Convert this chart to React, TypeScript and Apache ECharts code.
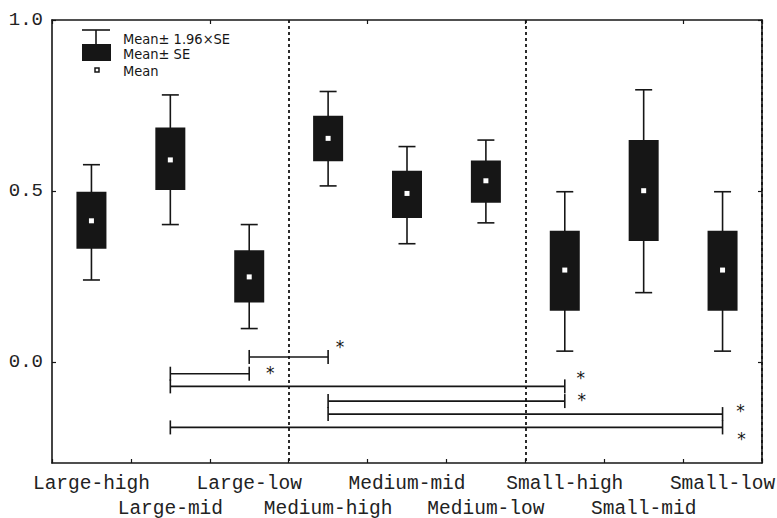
import React, { useEffect, useRef } from "react";
import * as echarts from "echarts";

const categories = [
  "Large-high", "Large-mid", "Large-low",
  "Medium-high", "Medium-mid", "Medium-low",
  "Small-high", "Small-mid", "Small-low",
];
const means = [0.413, 0.591, 0.249, 0.654, 0.493, 0.530, 0.269, 0.501, 0.269];
const seLow = [0.331, 0.503, 0.174, 0.587, 0.421, 0.466, 0.150, 0.354, 0.150];
const seHigh = [0.498, 0.686, 0.327, 0.720, 0.559, 0.589, 0.384, 0.649, 0.384];
const ciLow = [0.240, 0.402, 0.098, 0.515, 0.346, 0.407, 0.032, 0.203, 0.032];
const ciHigh = [0.577, 0.781, 0.402, 0.791, 0.630, 0.649, 0.498, 0.796, 0.498];

const bracketFrom = [2, 1, 1, 3, 3, 1];
const bracketTo = [3, 2, 6, 6, 8, 8];
const bracketY = [0.015, -0.034, -0.071, -0.114, -0.152, -0.191];
const starOffsets = [[12, -14], [21, -5], [16, -12], [17, -5], [18, -7], [19, 8]];

const yTicks = [0, 0.5, 1.0];
const yMin = -0.295;
const yMax = 1.0;

const INK = "#161616";

export default function App() {
  const ref = useRef<HTMLDivElement>(null);
  useEffect(() => {
    if (!ref.current) return;
    const chart = echarts.init(ref.current, null, { renderer: "svg" });
    const boxData = categories.map((_, i) => [i, ciLow[i], seLow[i], means[i], seHigh[i], ciHigh[i]]);
    const bracketData = bracketFrom.map((f, i) => [f, bracketTo[i], bracketY[i]]);
    const lineStyle = { stroke: INK, lineWidth: 1.6 };
    const axisLine = { show: true, onZero: false, lineStyle: { color: INK, width: 1.6 } };
    const option: any = {
      animation: false,
      backgroundColor: "#fff",
      grid: { left: 52, right: 15, top: 20, bottom: 55, containLabel: false, outerBoundsMode: "none" },
      xAxis: [
        {
          type: "category",
          data: categories,
          boundaryGap: true,
          position: "bottom",
          axisLine,
          axisTick: { show: true, inside: true, length: 4, lineStyle: { color: INK, width: 1.2 } },
          axisLabel: {
            interval: 0,
            margin: 8,
            color: "#222",
            fontFamily: "Liberation Mono",
            fontSize: 19.5,
            lineHeight: 25,
            formatter: (v: string, i: number) => (i % 2 === 1 ? "\n" + v : v),
          },
          splitLine: {
            show: true,
            interval: (i: number) => i === 3 || i === 6,
            lineStyle: { color: INK, width: 1.8, type: [3, 3] },
          },
        },
        {
          type: "category",
          data: categories,
          boundaryGap: true,
          position: "top",
          axisLine,
          axisTick: { show: true, inside: true, length: 4, lineStyle: { color: INK, width: 1.2 } },
          axisLabel: { show: false },
          splitLine: { show: false },
        },
      ],
      yAxis: [
        {
          type: "value",
          min: yMin,
          max: yMax,
          position: "left",
          axisLine,
          axisTick: { show: true, inside: true, length: 4, customValues: yTicks, lineStyle: { color: INK, width: 1.2 } },
          axisLabel: {
            customValues: yTicks,
            margin: 9,
            color: "#222",
            fontFamily: "Liberation Mono",
            fontSize: 19,
            formatter: (v: number) => v.toFixed(1),
          },
          splitLine: { show: false },
        },
        {
          type: "value",
          min: yMin,
          max: yMax,
          position: "right",
          axisLine,
          axisTick: { show: true, inside: true, length: 4, customValues: yTicks, lineStyle: { color: INK, width: 1.2 } },
          axisLabel: { show: false },
          splitLine: { show: false },
        },
      ],
      series: [
        {
          type: "custom",
          xAxisIndex: 0,
          yAxisIndex: 0,
          data: boxData,
          encode: { x: 0, y: [1, 5] },
          renderItem: (params: any, api: any) => {
            const i = api.value(0);
            const x = api.coord([i, 0])[0];
            const yCL = api.coord([i, api.value(1)])[1];
            const ySL = api.coord([i, api.value(2)])[1];
            const yM = api.coord([i, api.value(3)])[1];
            const ySH = api.coord([i, api.value(4)])[1];
            const yCH = api.coord([i, api.value(5)])[1];
            const boxW = 30;
            const capW = 17;
            return {
              type: "group",
              children: [
                { type: "line", shape: { x1: x, y1: yCH, x2: x, y2: yCL }, style: lineStyle },
                { type: "line", shape: { x1: x - capW / 2, y1: yCH, x2: x + capW / 2, y2: yCH }, style: lineStyle },
                { type: "line", shape: { x1: x - capW / 2, y1: yCL, x2: x + capW / 2, y2: yCL }, style: lineStyle },
                { type: "rect", shape: { x: x - boxW / 2, y: ySH, width: boxW, height: ySL - ySH }, style: { fill: INK } },
                { type: "rect", shape: { x: x - 2.5, y: yM - 2.5, width: 5, height: 5 }, style: { fill: "#fff" } },
              ],
            };
          },
        },
        {
          type: "custom",
          xAxisIndex: 0,
          yAxisIndex: 0,
          data: bracketData,
          encode: { x: [0, 1], y: 2 },
          renderItem: (params: any, api: any) => {
            const f = api.value(0);
            const t = api.value(1);
            const v = api.value(2);
            const [x1, y] = api.coord([f, v]);
            const x2 = api.coord([t, v])[0];
            const off = starOffsets[params.dataIndex];
            const h = 7;
            return {
              type: "group",
              children: [
                { type: "line", shape: { x1, y1: y, x2, y2: y }, style: lineStyle },
                { type: "line", shape: { x1, y1: y - h, x2: x1, y2: y + h }, style: lineStyle },
                { type: "line", shape: { x1: x2, y1: y - h, x2, y2: y + h }, style: lineStyle },
                {
                  type: "text",
                  x: x2 + off[0],
                  y: y + off[1] + 4,
                  style: {
                    text: "*",
                    fill: INK,
                    font: "17px 'DejaVu Sans'",
                    align: "center",
                    verticalAlign: "middle",
                  },
                },
              ],
            };
          },
        },
      ],
      graphic: [
        { type: "line", shape: { x1: 82, y1: 30, x2: 110, y2: 30 }, style: { stroke: INK, lineWidth: 1.6 } },
        { type: "line", shape: { x1: 96, y1: 30, x2: 96, y2: 44 }, style: { stroke: INK, lineWidth: 1.6 } },
        { type: "rect", shape: { x: 82, y: 44, width: 29, height: 17 }, style: { fill: INK } },
        { type: "rect", shape: { x: 95, y: 68, width: 4, height: 4 }, style: { fill: "#fff", stroke: INK, lineWidth: 1.5 } },
        { type: "text", x: 123, y: 39, style: { text: "Mean± 1.96×SE", fill: INK, font: "14.5px 'DejaVu Sans Condensed'", verticalAlign: "middle" } },
        { type: "text", x: 123, y: 54, style: { text: "Mean± SE", fill: INK, font: "14.5px 'DejaVu Sans Condensed'", verticalAlign: "middle" } },
        { type: "text", x: 123, y: 71, style: { text: "Mean", fill: INK, font: "14.5px 'DejaVu Sans Condensed'", verticalAlign: "middle" } },
      ],
    };
    chart.setOption(option);
    return () => chart.dispose();
  }, []);
  return (
    <div
      ref={ref}
      style={{ position: "fixed", left: 0, top: 0, width: 777, height: 518, background: "#fff" }}
    />
  );
}
